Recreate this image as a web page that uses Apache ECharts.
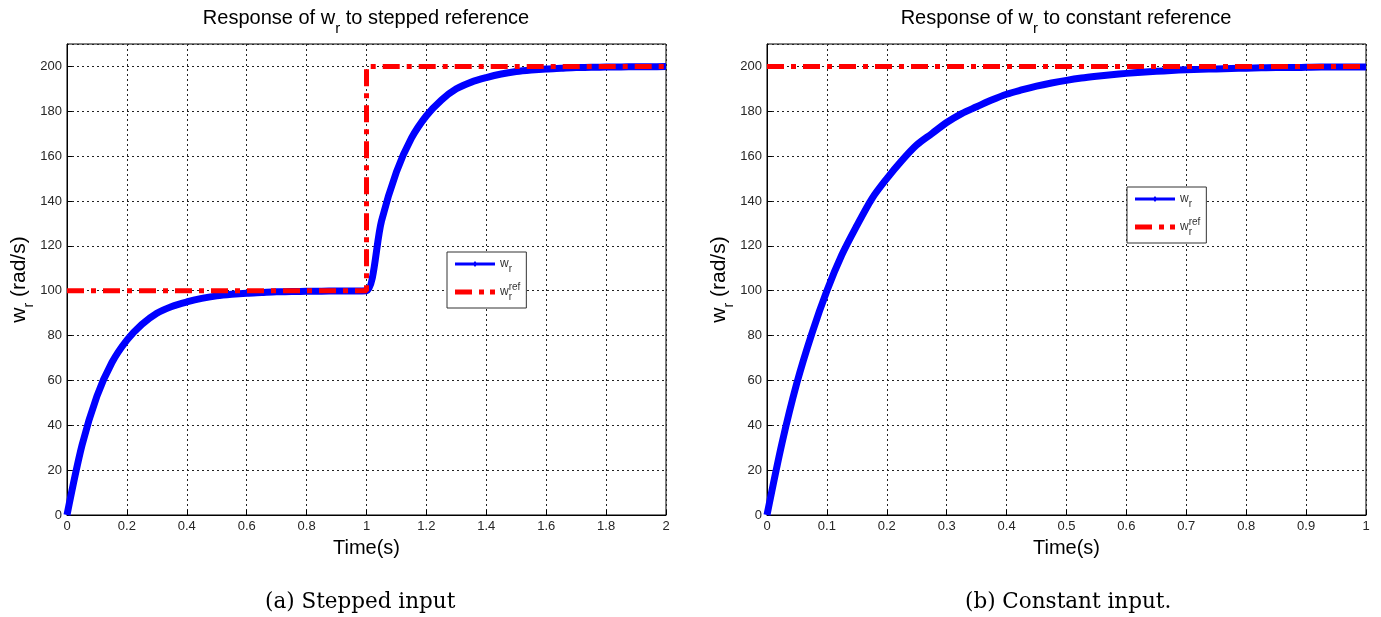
<!DOCTYPE html>
<html>
<head>
<meta charset="utf-8">
<script src="https://cdn.jsdelivr.net/npm/echarts@6/dist/echarts.min.js"></script>
<style>
  html, body { margin: 0; padding: 0; background: #fff; }
  #main { width: 1381px; height: 617px; }
</style>
</head>
<body>
<div id="main"></div>
<script>
// stepped reference (left)
var timeStep = [0, 0.05, 0.1, 0.15, 0.2, 0.25, 0.3, 0.35, 0.4, 0.45, 0.5, 0.55, 0.6, 0.65, 0.7, 0.75, 0.8, 0.85, 0.9, 0.95, 1,
  1.05, 1.1, 1.15, 1.2, 1.25, 1.3, 1.35, 1.4, 1.45, 1.5, 1.55, 1.6, 1.65, 1.7, 1.75, 1.8, 1.85, 1.9, 1.95, 2];
var wrStep = [0, 31, 53, 68, 78, 85, 90, 93, 95, 96.6, 97.7, 98.4, 98.9, 99.2, 99.5, 99.6, 99.8, 99.8, 99.9, 99.9, 100,
  131, 153, 168, 178, 185, 190, 193, 195, 196.6, 197.7, 198.4, 198.9, 199.2, 199.5, 199.6, 199.8, 199.8, 199.9, 199.9, 200];
var refStepTime = [0, 1, 1, 2];
var refStepVal = [100, 100, 200, 200];

// constant reference (right)
var timeConst = [0, 0.025, 0.05, 0.075, 0.1, 0.125, 0.15, 0.175, 0.2, 0.225, 0.25, 0.275, 0.3, 0.325, 0.35, 0.375, 0.4,
  0.425, 0.45, 0.475, 0.5, 0.525, 0.55, 0.575, 0.6, 0.625, 0.65, 0.675, 0.7, 0.725, 0.75, 0.775, 0.8,
  0.825, 0.85, 0.875, 0.9, 0.925, 0.95, 0.975, 1];
var wrConst = [0, 32, 59, 81, 100, 116, 129, 141, 150, 158, 165, 170, 175, 179, 182, 185, 187.6,
  189.5, 191.2, 192.6, 193.8, 194.8, 195.6, 196.3, 196.9, 197.4, 197.8, 198.2, 198.5, 198.7, 198.9, 199.1, 199.2,
  199.4, 199.5, 199.5, 199.6, 199.7, 199.7, 199.8, 199.8];
var refConstTime = [0, 1];
var refConstVal = [200, 200];

var xTicksStep = 0.2, xTicksConst = 0.1;

function pairs(xs, ys) {
  return xs.map(function (x, i) { return [x, ys[i]]; });
}

var font = 'Liberation Sans, Arial, sans-serif';
var gridLine = { show: true, lineStyle: { color: '#222', type: [2, 3], width: 1 } };

function xAx(idx, max, step) {
  return {
    gridIndex: idx, type: 'value', min: 0, max: max, interval: step,
    name: 'Time(s)', nameLocation: 'middle', nameGap: 23,
    nameTextStyle: { fontFamily: font, fontSize: 20, color: '#000' },
    axisLine: { lineStyle: { color: '#000', width: 1 } },
    axisTick: { inside: true, length: 5, lineStyle: { color: '#000' } },
    axisLabel: { fontFamily: font, fontSize: 13, color: '#262626', margin: 5 },
    splitLine: gridLine
  };
}
function yAx(idx) {
  return {
    gridIndex: idx, type: 'value', min: 0, max: 210, interval: 20,
    name: '{w|w}{s|r}{w| (rad/s)}', nameLocation: 'middle', nameGap: 38, nameRotate: 90,
    nameTextStyle: {
      fontFamily: font, color: '#000', verticalAlign: 'top',
      rich: {
        w: { fontFamily: font, fontSize: 21, lineHeight: 21, verticalAlign: 'top', color: '#000' },
        s: { fontFamily: font, fontSize: 14, lineHeight: 12, padding: [14, 0, 0, 0], verticalAlign: 'top', color: '#000' }
      }
    },
    axisLine: { lineStyle: { color: '#000', width: 1 } },
    axisTick: { inside: true, length: 5, lineStyle: { color: '#000' } },
    axisLabel: { fontFamily: font, fontSize: 13, color: '#262626', margin: 5, showMaxLabel: false },
    splitLine: gridLine
  };
}

var titleRich = {
  t: { fontFamily: font, fontSize: 20, lineHeight: 20, verticalAlign: 'top', color: '#000', fontWeight: 'normal' },
  s: { fontFamily: font, fontSize: 15, lineHeight: 12, padding: [13, 0, 0, 0], verticalAlign: 'top', color: '#000', fontWeight: 'normal' }
};
var legendRich = {
  w: { fontFamily: font, fontSize: 12, lineHeight: 20, verticalAlign: 'middle', color: '#333' },
  s: { fontFamily: font, fontSize: 10, lineHeight: 8, verticalAlign: 'bottom', color: '#333', width: 0 },
  s2: { fontFamily: font, fontSize: 10, lineHeight: 8, verticalAlign: 'bottom', color: '#333' },
  p: { fontFamily: font, fontSize: 10, lineHeight: 6, verticalAlign: 'top', color: '#333' }
};

function legend(idx, left, top) {
  return {
    left: left, top: top, orient: 'vertical',
    backgroundColor: '#fff', borderColor: '#333', borderWidth: 1,
    padding: [6, 6, 6, 8], itemGap: 8, itemWidth: 40, itemHeight: 12,
    selectedMode: false,
    data: [
      { name: 'wr' + idx, icon: 'path://M0,4.5L40,4.5L40,7.5L0,7.5ZM20,3L22.5,6L20,9L17.5,6Z', itemStyle: { color: '#0000ff' } },
      { name: 'ref' + idx, icon: 'path://M0,3.5L17,3.5L17,8.5L0,8.5ZM24,3.5L29,3.5L29,8.5L24,8.5ZM35,3.5L40,3.5L40,8.5L35,8.5Z', itemStyle: { color: '#ff0000' } }
    ],
    formatter: function (n) {
      return n.indexOf('wr') === 0 ? '{w|w}{s2|r}' : '{w|w}{s|r}{p|ref}';
    },
    textStyle: { rich: legendRich }
  };
}

var chart = echarts.init(document.getElementById('main'));
var option = {
  backgroundColor: '#fff',
  animation: false,
  title: [
    { text: '{t|Response of w}{s|r}{t| to stepped reference}', left: 366, top: 8, textAlign: 'center', padding: 0,
      textStyle: { fontWeight: 'normal', rich: titleRich } },
    { text: '{t|Response of w}{s|r}{t| to constant reference}', left: 1066, top: 8, textAlign: 'center', padding: 0,
      textStyle: { fontWeight: 'normal', rich: titleRich } }
  ],
  grid: [
    { left: 67, right: 715, top: 44, bottom: 102, show: true, borderColor: '#000', borderWidth: 1, containLabel: false, outerBoundsMode: 'none' },
    { left: 767, right: 15, top: 44, bottom: 102, show: true, borderColor: '#000', borderWidth: 1, containLabel: false, outerBoundsMode: 'none' }
  ],
  xAxis: [xAx(0, 2, xTicksStep), xAx(1, 1, xTicksConst)],
  yAxis: [yAx(0), yAx(1)],
  legend: [legend(0, 447, 252), legend(1, 1127, 187)],
  series: [
    { name: 'wr0', type: 'line', xAxisIndex: 0, yAxisIndex: 0, data: pairs(timeStep, wrStep),
      smooth: 0.3, showSymbol: false, symbol: 'none', lineStyle: { color: '#0000ff', width: 7 }, itemStyle: { color: '#0000ff' } },
    { name: 'ref0', type: 'line', xAxisIndex: 0, yAxisIndex: 0, data: pairs(refStepTime, refStepVal),
      showSymbol: false, symbol: 'none', lineStyle: { color: '#ff0000', width: 5, type: [17, 7, 5, 7] }, itemStyle: { color: '#ff0000' } },
    { name: 'wr1', type: 'line', xAxisIndex: 1, yAxisIndex: 1, data: pairs(timeConst, wrConst),
      smooth: 0.3, showSymbol: false, symbol: 'none', lineStyle: { color: '#0000ff', width: 7 }, itemStyle: { color: '#0000ff' } },
    { name: 'ref1', type: 'line', xAxisIndex: 1, yAxisIndex: 1, data: pairs(refConstTime, refConstVal),
      showSymbol: false, symbol: 'none', lineStyle: { color: '#ff0000', width: 5, type: [17, 7, 5, 7] }, itemStyle: { color: '#ff0000' } }
  ],
  graphic: [
    { type: 'text', left: 265, top: 591, style: { text: '(a) Stepped input', font: '21.5px "DejaVu Serif", serif', fill: '#000' } },
    { type: 'text', left: 965, top: 591, style: { text: '(b) Constant input.', font: '21.5px "DejaVu Serif", serif', fill: '#000' } }
  ]
};
option && chart.setOption(option);
</script>
</body>
</html>
